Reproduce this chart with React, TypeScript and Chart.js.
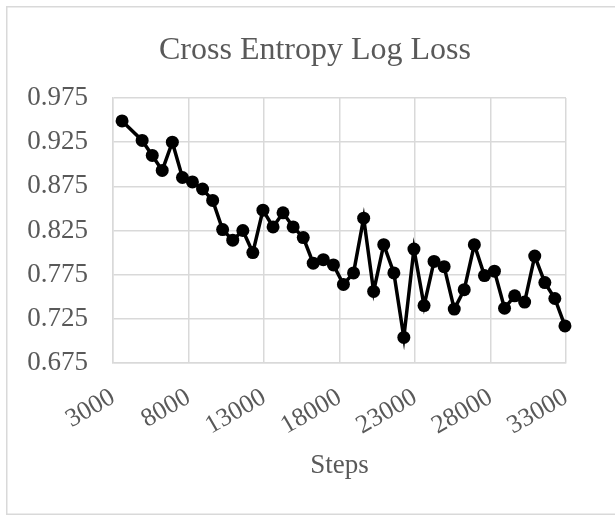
import React, { useEffect, useRef } from "react";
import { Chart, registerables } from "chart.js";

Chart.register(...registerables);

const TITLE = "Cross Entropy Log Loss";
const X_TITLE = "Steps";

const steps = [
  3600, 4930, 5600, 6260, 6930, 7600, 8260, 8930, 9600, 10260, 10930, 11600,
  12260, 12930, 13600, 14260, 14930, 15600, 16260, 16930, 17600, 18260, 18930,
  19600, 20260, 20930, 21600, 22260, 22930, 23600, 24260, 24930, 25600, 26260,
  26930, 27600, 28260, 28930, 29600, 30260, 30930, 31600, 32260, 32930,
];

const loss = [
  0.949, 0.927, 0.91, 0.893, 0.925, 0.885, 0.88, 0.872, 0.859, 0.826, 0.814,
  0.825, 0.8, 0.848, 0.829, 0.845, 0.829, 0.817, 0.788, 0.792, 0.786, 0.764,
  0.777, 0.839, 0.756, 0.809, 0.777, 0.704, 0.804, 0.74, 0.79, 0.784, 0.736,
  0.758, 0.809, 0.774, 0.779, 0.737, 0.751, 0.744, 0.796, 0.766, 0.748, 0.717,
];

const X_MIN = 3000;
const X_MAX = 33000;
const X_STEP = 5000;
const Y_MIN = 0.675;
const Y_MAX = 0.975;
const Y_STEP = 0.05;

const FONT = '"Liberation Serif", "Times New Roman", serif';
const TEXT = "#595959";
const GRID = "#d9d9d9";

const framePlugin = {
  id: "frame",
  beforeDraw(chart: any) {
    const { ctx, width, height } = chart;
    ctx.save();
    ctx.fillStyle = "#ffffff";
    ctx.fillRect(0, 0, width, height);
    ctx.strokeStyle = GRID;
    ctx.lineWidth = 1.5;
    ctx.strokeRect(6.75, 6.75, width + 50, height - 7.5);
    ctx.restore();
  },
  afterDraw(chart: any) {
    const { ctx } = chart;
    ctx.save();
    ctx.font = `32px ${FONT}`;
    ctx.fillStyle = TEXT;
    ctx.textAlign = "center";
    ctx.textBaseline = "alphabetic";
    ctx.fillText(TITLE, 315, 59);
    ctx.restore();
  },
};

export default function App() {
  const ref = useRef<HTMLCanvasElement | null>(null);

  useEffect(() => {
    if (!ref.current) return;
    const chart = new Chart(ref.current, {
      type: "line",
      data: {
        datasets: [
          {
            data: steps.map((s, i) => ({ x: s, y: loss[i] })),
            borderColor: "#000000",
            backgroundColor: "#000000",
            borderWidth: 3.5,
            pointRadius: 6.5,
            pointHoverRadius: 6.5,
            pointBackgroundColor: "#000000",
            pointBorderColor: "#000000",
            pointBorderWidth: 0,
            tension: 0,
            clip: false,
          },
        ],
      },
      options: {
        animation: false,
        responsive: false,
        devicePixelRatio: 1,
        layout: { padding: { top: 98, right: 49, bottom: 0, left: 0 } },
        plugins: {
          legend: { display: false },
          title: { display: false },
          tooltip: { enabled: false },
        },
        scales: {
          x: {
            type: "linear",
            min: X_MIN,
            max: X_MAX,
            ticks: {
              stepSize: X_STEP,
              autoSkip: false,
              minRotation: 30,
              maxRotation: 30,
              padding: 19,
              color: TEXT,
              font: { family: FONT, size: 26 },
              callback: (v: any) => String(v),
            },
            grid: { color: GRID, lineWidth: 1.5, drawTicks: false },
            border: { color: GRID, width: 1.5 },
            title: {
              display: true,
              text: X_TITLE,
              color: TEXT,
              font: { family: FONT, size: 27 },
              padding: { top: 0, bottom: 33 },
            },
            afterFit: (scale: any) => {
              scale.height = 152;
            },
          },
          y: {
            type: "linear",
            min: Y_MIN,
            max: Y_MAX,
            ticks: {
              stepSize: Y_STEP,
              padding: 25,
              color: TEXT,
              font: { family: FONT, size: 27 },
              callback: (v: any) => Number(v).toFixed(3),
            },
            grid: { color: GRID, lineWidth: 1.5, drawTicks: false },
            border: { color: GRID, width: 1.5 },
            afterFit: (scale: any) => {
              scale.width = 113;
            },
          },
        },
      },
      plugins: [framePlugin],
    });
    return () => chart.destroy();
  }, []);

  return (
    <div
      style={{
        position: "absolute",
        left: 0,
        top: 0,
        width: 615,
        height: 515,
        overflow: "hidden",
        background: "#fff",
      }}
    >
      <canvas ref={ref} width={615} height={515} style={{ display: "block" }} />
    </div>
  );
}
